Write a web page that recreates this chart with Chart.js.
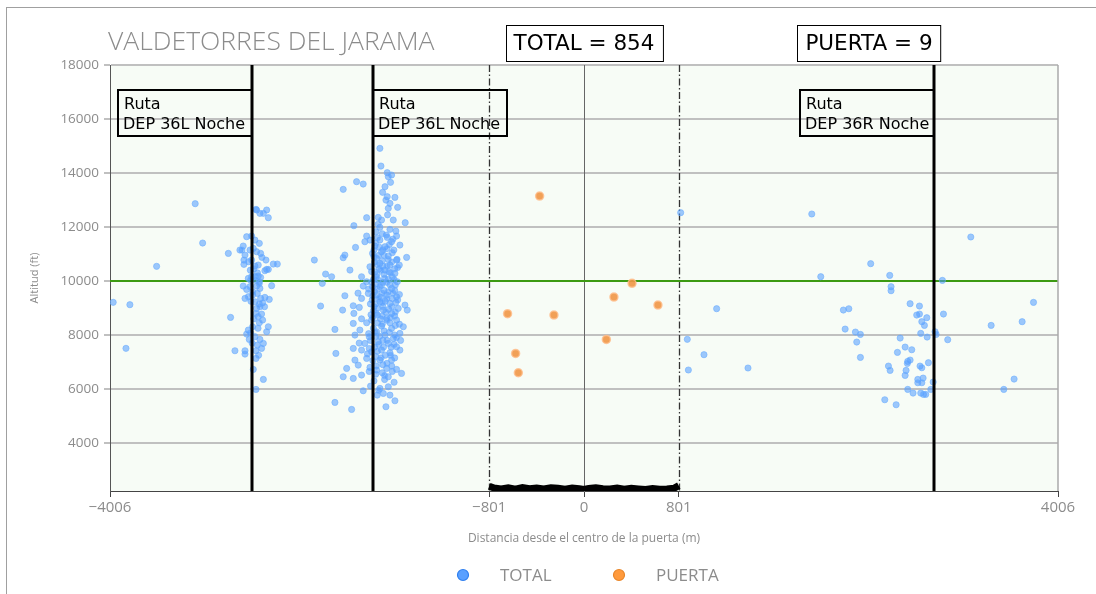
<!DOCTYPE html>
<html>
<head>
<meta charset="utf-8">
<script src="https://cdn.jsdelivr.net/npm/chart.js@4/dist/chart.umd.min.js"></script>
<style>
  body { margin: 0; background: #fff; }
  #frame { position: absolute; left: 6px; top: 7px; width: 1100px; height: 600px; border-left: 1px solid #a0a0a0; border-top: 1px solid #a0a0a0; }
  #wrap { position: absolute; left: 0; top: 0; width: 1096px; height: 594px; }
</style>
</head>
<body>
<div id="frame"></div>
<div id="wrap"><canvas id="c1"></canvas></div>
<script>
// tick labels
var xTicks = [-4006, -801, 0, 801, 4006];
var yTicks = [4000, 6000, 8000, 10000, 12000, 14000, 16000, 18000];

// reference lines (m / ft)
var routeX = [-2806, -1783, 2958];
var routeText = ['DEP 36L Noche', 'DEP 36L Noche', 'DEP 36R Noche'];
var gateX = [-801, 801];
var limitFt = 10000;
var headers = ['TOTAL = 854', 'PUERTA = 9'];

// TOTAL tracks: [distance m, altitude ft]
var farLeft = [[-3979,9210],[-3838,9122],[-3871,7506],[-3612,10543],[-3286,12863],[-3223,11406],
  [-3006,11023],[-2908,11147],[-2987,8652],[-2950,7417],
  [-2279,10776],[-2184,10257],[-2212,9912],[-2226,9072],[-2133,10158]];

var route1 = [[-2767,12629],[-2739,12505],[-2710,12505],[-2682,12629],[-2668,12344],[-2772,12653],
  [-2851,11640],[-2809,11665],[-2781,11517],[-2744,11394],[-2880,11295],[-2891,11147],
  [-2865,10961],[-2823,11147],[-2795,11208],[-2767,11085],[-2733,11023],[-2722,10875],
  [-2688,10776],[-2874,10776],[-2874,10616],[-2837,10714],[-2809,10776],[-2781,10554],
  [-2753,10591],[-2626,10628],[-2592,10628],[-2682,10430],[-2697,10381],[-2668,10430],
  [-2837,10097],[-2809,10159],[-2781,10159],[-2753,10183],[-2733,10134],[-2772,10035],
  [-2818,10035],[-2744,9973],[-2640,9825],[-2880,9813],[-2851,9689],[-2823,9788],
  [-2767,9813],[-2739,9726],[-2865,9356],[-2837,9418],[-2801,9479],[-2761,9541],
  [-2733,9356],[-2697,9393],[-2660,9319],[-2781,9232],[-2744,9146],[-2716,9195],
  [-2767,8985],[-2739,9047],[-2725,8775],[-2753,8677],[-2716,8553],[-2744,8454],
  [-2668,8306],[-2801,8306],[-2837,8183],[-2818,8084],[-2682,8121],[-2851,8034],
  [-2781,7936],[-2739,7837],[-2710,7689],[-2829,7837],[-2761,7627],[-2725,7504],
  [-2772,7417],[-2865,7417],[-2865,7293],[-2772,7133],[-2795,6725],[-2710,6355],
  [-2772,5984],[-2790,10450],[-2760,10300],[-2800,9600],[-2745,9900],[-2815,9250],
  [-2770,8800],[-2790,8600],[-2755,8250],[-2805,7700],[-2750,7250],[-2820,10400],[-2700,9050]];

var route2 = [[-1725,14913],[-1716,14258],[-1663,14011],[-1626,13925],[-1654,13863],[-1635,13653],
  [-1922,13678],[-1866,13591],[-2035,13394],[-1682,13493],[-1702,13283],[-1663,13122],
  [-1598,13097],[-1674,12998],[-1640,12875],[-1654,12690],[-1575,12727],[-1837,12344],
  [-1739,12356],[-1711,12258],[-1612,12258],[-1511,12159],[-1945,12048],[-1725,11986],
  [-1640,11912],[-1759,11825],[-1837,11665],[-1584,11665],[-1663,11615],[-1852,11455],
  [-1809,11517],[-1725,11517],[-1626,11455],[-1556,11331],[-1767,11294],[-1682,11270],
  [-1931,11245],[-1607,11146],[-1711,11084],[-1787,11023],[-2021,10961],[-2035,10862],
  [-1499,10874],[-1654,10924],[-1753,10837],[-1584,10776],[-1978,10405],[-1809,10528],
  [-1725,10652],[-1640,10590],[-1561,10590],[-1880,10158],[-1767,10343],[-1682,10405],
  [-1598,10281],[-1837,9973],[-1739,10035],[-1654,10059],[-1578,9973],[-1866,9812],
  [-1787,9788],[-1711,9849],[-1626,9726],[-2021,9454],[-1823,9540],[-1753,9479],
  [-1668,9479],[-1584,9417],[-1880,9355],[-1725,9232],[-1640,9170],[-1513,9108],
  [-1950,9083],[-1775,9046],[-1570,8985],[-2040,8923],[-1899,9022],[-1696,8923],
  [-1494,8923],[-1945,8800],[-1626,8800],[-1747,8738],[-1795,8553],[-1668,8614],
  [-1584,8553],[-1527,8306],[-1950,8429],[-1837,8454],[-1711,8330],[-1626,8244],
  [-2105,8207],[-1894,8182],[-1753,8120],[-1682,7997],[-1556,8059],[-1936,7997],
  [-1815,7935],[-1612,7873],[-1852,7688],[-1739,7750],[-1654,7688],[-1584,7565],
  [-1950,7503],[-2097,7318],[-1880,7441],[-1795,7380],[-1711,7441],[-1640,7342],
  [-1556,7441],[-1936,7071],[-1837,7133],[-1725,7071],[-1626,7071],[-2006,6762],
  [-1908,6885],[-1809,6799],[-1668,6762],[-1584,6725],[-1542,6577],[-2035,6453],
  [-1950,6391],[-1880,6515],[-1753,6700],[-1654,6453],[-1804,6107],[-1725,6021],
  [-1654,6083],[-1866,5934],[-1696,5836],[-1640,5774],[-1747,5774],[-1598,5564],
  [-1674,5342],[-2105,5502],[-1964,5243],
  [-1760,11400],[-1700,11150],[-1620,11050],[-1690,10950],[-1770,10700],[-1600,10450],
  [-1700,10550],[-1750,10250],[-1620,10150],[-1690,10250],[-1780,10050],[-1700,9950],
  [-1640,9850],[-1760,9900],[-1600,9650],[-1690,9650],[-1770,9600],[-1720,9400],
  [-1620,9350],[-1790,9300],[-1680,9250],[-1590,9200],[-1760,9150],[-1700,9050],
  [-1650,8950],[-1780,8900],[-1600,8700],[-1720,8600],[-1640,8450],[-1780,8250],
  [-1690,8150],[-1600,8000],[-1760,7950],[-1700,7800],[-1630,7550],[-1770,7550],
  [-1680,7250],[-1760,7200],[-1600,7150],[-1700,6900],[-1620,6650],[-1760,6550],
  [-1670,11700],[-1590,11850],[-1740,12100],[-1660,12450],[-1730,11250],[-1650,10350],
  [-1730,10450],[-1580,10800],[-1820,9700],[-1560,9500],[-1800,8750],[-1560,8400],
  [-1820,8050],[-1550,7800],[-1830,7300],[-1900,7700],[-1880,8600],[-1910,9550],
  [-1745,11600],[-1705,11750],[-1645,11350],[-1775,11150],[-1665,11200],[-1615,11550],
  [-1735,10950],[-1655,10800],[-1705,10750],[-1775,10900],[-1625,10700],[-1745,10600],
  [-1665,10550],[-1795,10350],[-1715,10400],[-1635,10300],[-1575,10500],[-1755,10150],
  [-1685,10100],[-1605,10050],[-1795,9950],[-1725,9800],[-1665,9950],[-1595,9850],
  [-1745,9700],[-1655,9600],[-1705,9550],[-1615,9550],[-1785,9450],[-1735,9350],
  [-1665,9350],[-1575,9300],[-1705,9200],[-1805,9150],[-1625,9050],[-1745,9000],
  [-1675,8850],[-1595,8850],[-1755,8800],[-1705,8700],[-1635,8650],[-1785,8650],
  [-1665,8550],[-1745,8450],[-1595,8350],[-1705,8400],[-1765,8100],[-1645,8100],
  [-1725,7950],[-1585,7900],[-1665,7800],[-1805,7800],[-1735,7650],[-1605,7650],
  [-1695,7550],[-1815,7500],[-1745,7400],[-1635,7250],[-1715,7150],[-1785,7050],
  [-1665,6950],[-1755,6850],[-1625,6850],[-1705,6600],[-1815,6650],[-1685,6350],
  [-1775,6300],[-1605,6250],[-1735,5950],[-1685,6500]];

var rightSide = [[817,12529],[1121,8974],[873,7840],[1014,7270],[882,6703],[1386,6777],
  [1925,12481],[3269,11629],[2423,10641],[2001,10159],[2584,10208],[3029,10023],
  [2595,9789],[2595,9640],[3799,9208],[2756,9159],[2835,9072],[2192,8924],
  [2238,8973],[2812,8739],[2835,8776],[2897,8640],[2855,8492],[2877,8356],
  [3038,8776],[3441,8356],[3703,8492],[2207,8220],[2294,8109],[2336,8022],
  [2846,8060],[2900,7924],[2967,8121],[2976,8022],[3074,7825],[2672,7887],
  [2305,7739],[2714,7553],[2770,7454],[2649,7356],[2336,7170],[2736,7022],
  [2756,7072],[2733,6948],[2911,6973],[2573,6849],[2587,6689],[2840,6849],
  [2855,6787],[2722,6689],[2714,6503],[2866,6405],[2821,6355],[2821,6232],
  [2855,6232],[2951,6257],[3635,6368],[3548,5985],[2736,5985],[2781,5849],
  [2846,5849],[2869,5800],[2888,5800],[2931,5985],[2542,5602],[2638,5417]];

// PUERTA tracks
var gateTracks = [[-375,13147],[-646,8788],[-254,8738],[-578,7318],[-555,6602],
  [406,9912],[253,9405],[625,9109],[189,7837]];

// gate footprint band along the bottom
var bandX = [-801,-760,-700,-640,-580,-520,-460,-400,-340,-280,-220,-160,-100,-40,0,
  40,100,160,220,280,340,400,460,520,580,640,700,760,801];
var bandY = [2400,2330,2300,2340,2290,2350,2310,2330,2300,2340,2320,2290,2330,2310,2280,
  2320,2340,2310,2300,2330,2290,2320,2300,2280,2310,2290,2300,2320,2420];

function pts(list) {
  return list.map(function(p) { return {x: p[0], y: p[1]}; });
}
var totalPts = pts(farLeft).concat(pts(route1), pts(route2), pts(rightSide));
var bandPts = bandX.map(function(x, i) { return {x: x, y: bandY[i]}; });

var grey = '#8c8c8c';

var overlay = {
  id: 'overlay',
  beforeDraw: function(chart) {
    var a = chart.chartArea, ctx = chart.ctx;
    ctx.save();
    ctx.fillStyle = '#f7fcf6';
    ctx.fillRect(a.left, a.top, a.right - a.left, a.bottom - a.top);
    ctx.restore();
  },
  beforeDatasetsDraw: function(chart) {
    var a = chart.chartArea, ctx = chart.ctx;
    var xs = chart.scales.x, ys = chart.scales.y;
    ctx.save();
    // centre line
    var x0 = Math.round(xs.getPixelForValue(0)) + 0.5;
    ctx.strokeStyle = '#666';
    ctx.lineWidth = 1;
    ctx.beginPath(); ctx.moveTo(x0, a.top); ctx.lineTo(x0, a.bottom); ctx.stroke();
    // gate limits
    ctx.strokeStyle = '#333';
    ctx.lineWidth = 1.3;
    ctx.setLineDash([7, 2.5, 1.5, 2.5]);
    gateX.forEach(function(v) {
      var px = Math.round(xs.getPixelForValue(v)) + 0.5;
      ctx.beginPath(); ctx.moveTo(px, a.top); ctx.lineTo(px, a.bottom); ctx.stroke();
    });
    ctx.setLineDash([]);
    // limit altitude
    var py = ys.getPixelForValue(limitFt);
    ctx.strokeStyle = '#3c9a12';
    ctx.lineWidth = 2;
    ctx.beginPath(); ctx.moveTo(a.left, py); ctx.lineTo(a.right, py); ctx.stroke();
    // right border
    ctx.strokeStyle = '#aaa';
    ctx.lineWidth = 1.5;
    ctx.beginPath(); ctx.moveTo(a.right, a.top); ctx.lineTo(a.right, a.bottom); ctx.stroke();
    ctx.restore();
  },
  afterDatasetsDraw: function(chart) {
    var a = chart.chartArea, ctx = chart.ctx;
    var xs = chart.scales.x, ys = chart.scales.y;
    ctx.save();
    // route lines
    ctx.strokeStyle = '#000';
    ctx.lineWidth = 3;
    var rp = routeX.map(function(v) { return Math.round(xs.getPixelForValue(v)); });
    rp.forEach(function(px) {
      ctx.beginPath(); ctx.moveTo(px, a.top); ctx.lineTo(px, a.bottom); ctx.stroke();
    });
    // route labels
    ctx.font = '16px "DejaVu Sans"';
    ctx.textBaseline = 'middle';
    ctx.lineWidth = 2;
    var bw = 134, bh = 46, by = 90;
    rp.forEach(function(px, i) {
      var bx = (i === 1) ? px : px - bw;
      ctx.strokeStyle = '#000';
      ctx.strokeRect(bx, by, bw, bh);
      ctx.fillStyle = '#000';
      ctx.fillText('Ruta', bx + 6, by + 15);
      ctx.fillText(routeText[i], bx + 5, by + 35);
    });
    // header boxes
    ctx.font = '21.5px "DejaVu Sans"';
    ctx.lineWidth = 1;
    ctx.textAlign = 'center';
    var hc = [xs.getPixelForValue(0), rp[2] - 65];
    headers.forEach(function(t, i) {
      var w = ctx.measureText(t).width + 16;
      var x = Math.round(hc[i] - w / 2) + 0.5;
      ctx.strokeStyle = '#000';
      ctx.strokeRect(x, 25.5, w, 36);
      ctx.fillStyle = '#000';
      ctx.fillText(t, hc[i], 44);
    });
    // title
    ctx.textAlign = 'left';
    ctx.textBaseline = 'alphabetic';
    ctx.fillStyle = grey;
    ctx.font = '300 26.5px "Open Sans"';
    ctx.fillText('VALDETORRES DEL JARAMA', 108, 50);
    // legend
    var leg = [['TOTAL', '#5aa0ff', '#2f7fef', 463], ['PUERTA', '#ff9a3c', '#e8862a', 619]];
    ctx.font = '17px "Open Sans"';
    ctx.textBaseline = 'middle';
    leg.forEach(function(l) {
      ctx.beginPath();
      ctx.arc(l[3], 575, 5.5, 0, Math.PI * 2);
      ctx.fillStyle = l[1]; ctx.fill();
      ctx.strokeStyle = l[2]; ctx.lineWidth = 1.2; ctx.stroke();
      ctx.fillStyle = grey;
      ctx.fillText(l[0], l[3] + 37, 576);
    });
    ctx.restore();
  }
};

var ctx = document.getElementById('c1').getContext('2d');
var chart1 = new Chart(ctx, {
  type: 'scatter',
  data: {
    datasets: [{
      label: 'TOTAL',
      data: totalPts,
      backgroundColor: 'rgba(80,155,255,0.55)',
      borderColor: 'rgba(110,175,255,0.6)',
      borderWidth: 1,
      pointRadius: 3.1,
      order: 2
    }, {
      label: 'PUERTA',
      data: pts(gateTracks),
      backgroundColor: 'rgba(240,150,70,0.9)',
      borderColor: 'rgba(255,190,140,0.8)',
      borderWidth: 1.5,
      pointRadius: 4,
      order: 1
    }, {
      label: 'band',
      data: bandPts,
      showLine: true,
      borderColor: '#000',
      borderWidth: 7,
      pointRadius: 0,
      order: 0
    }]
  },
  options: {
    responsive: true,
    maintainAspectRatio: false,
    animation: false,
    layout: { padding: { left: 0, right: 38, top: 65, bottom: 38 } },
    plugins: { legend: { display: false }, tooltip: { enabled: false } },
    scales: {
      x: {
        type: 'linear',
        min: -4006, max: 4006,
        afterBuildTicks: function(s) { s.ticks = xTicks.map(function(v) { return {value: v}; }); },
        afterFit: function(s) { s.height = 65; },
        ticks: {
          color: grey, font: { family: 'Open Sans', size: 15 }, padding: 2,
          callback: function(v) { return v < 0 ? '\u2212' + Math.abs(v) : String(v); }
        },
        grid: { drawOnChartArea: false, drawTicks: true, tickLength: 6, color: '#444' },
        border: { color: '#444', width: 1 },
        title: { display: true, text: 'Distancia desde el centro de la puerta (m)', color: grey,
          font: { family: 'Open Sans', size: 12 }, padding: { top: 0, bottom: 10 } }
      },
      y: {
        min: 2222, max: 18000,
        afterBuildTicks: function(s) { s.ticks = yTicks.map(function(v) { return {value: v}; }); },
        afterFit: function(s) { s.width = 110; },
        ticks: { color: grey, font: { family: 'Open Sans', size: 13.5 }, padding: 5,
          callback: function(v) { return String(v); } },
        grid: { color: '#c0c0c0', lineWidth: 2, tickLength: 6 },
        border: { color: '#555', width: 1 },
        title: { display: true, text: 'Altitud (ft)', color: grey,
          font: { family: 'Open Sans', size: 11 }, padding: { top: 28, bottom: 0 } }
      }
    }
  },
  plugins: [overlay]
});
</script>
</body>
</html>
